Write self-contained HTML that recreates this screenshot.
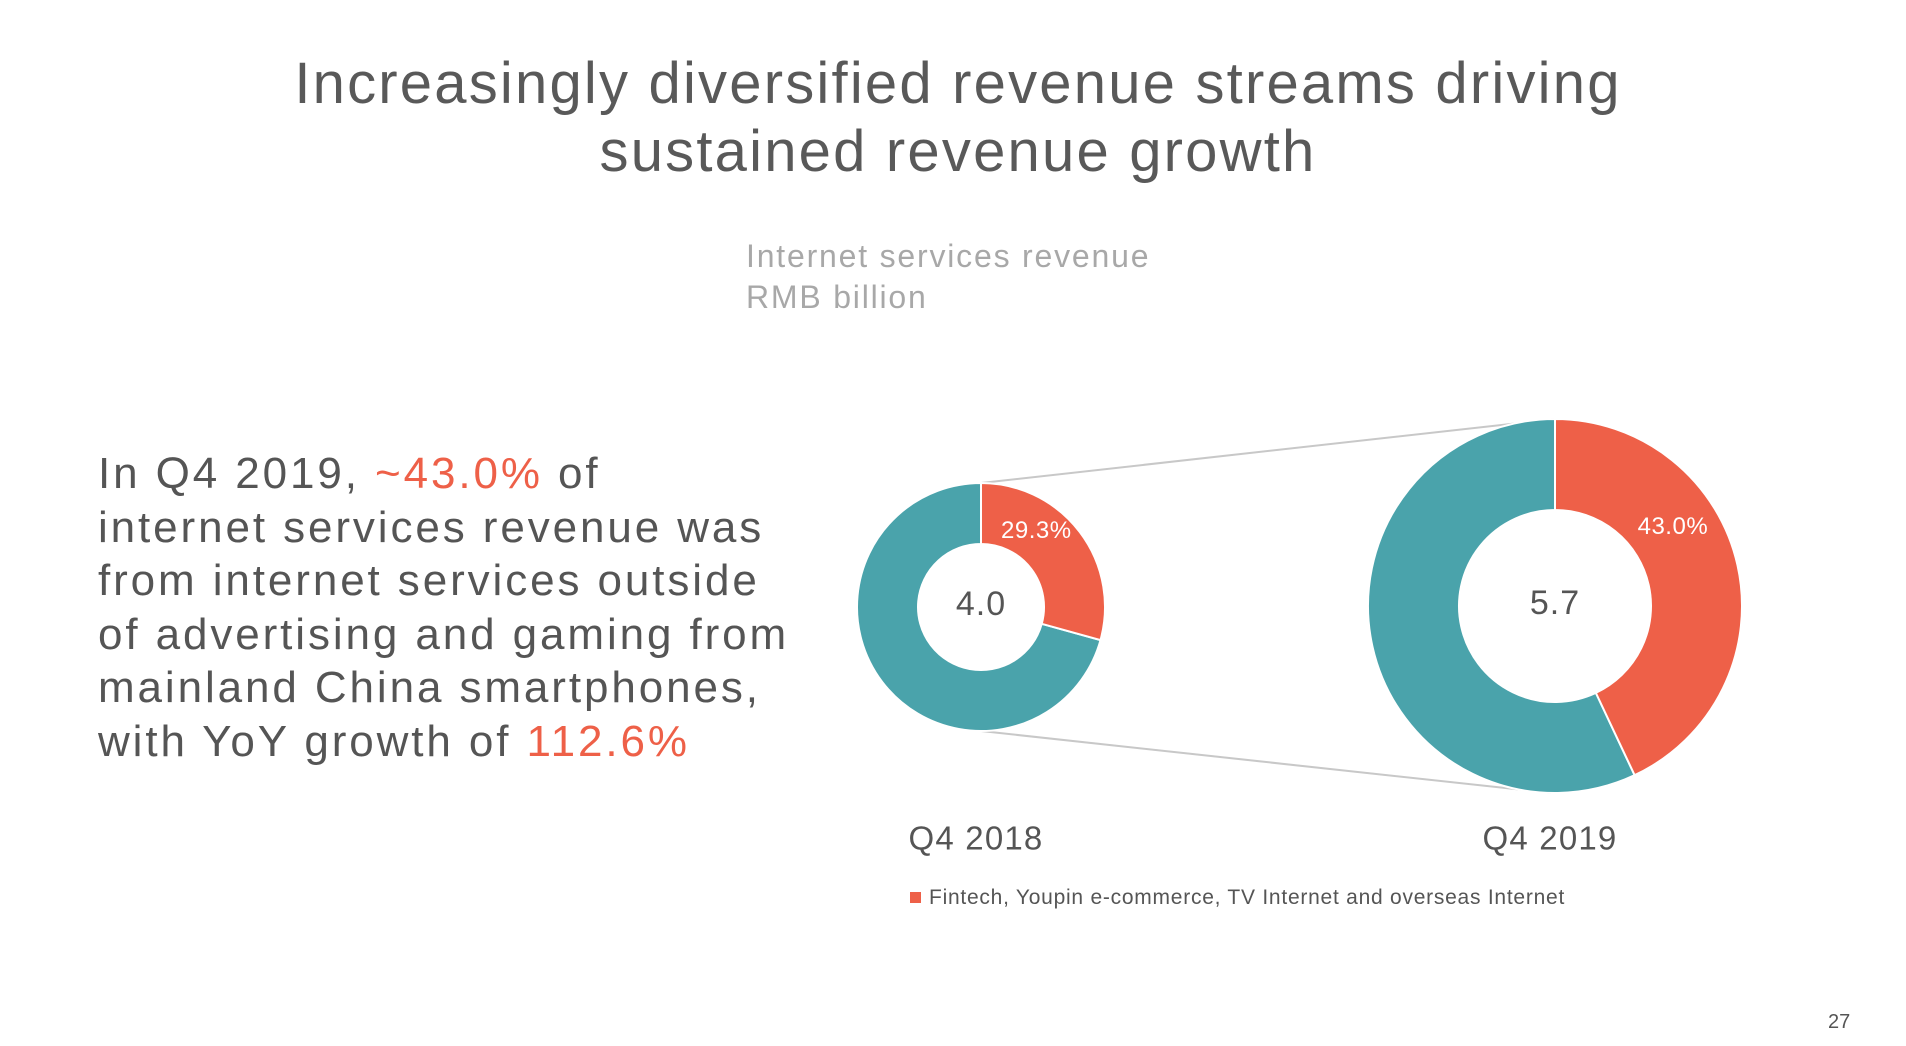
<!DOCTYPE html>
<html><head><meta charset="utf-8"><style>
html,body{margin:0;padding:0;background:#fff;}
body{width:1906px;height:1046px;position:relative;overflow:hidden;font-family:"Liberation Sans",sans-serif;color:#555;}
.abs{position:absolute;}
#title{left:0;width:1916px;top:50px;text-align:center;font-size:58px;line-height:68px;color:#595959;letter-spacing:2.2px;}
#sub{left:746px;top:236px;font-size:32px;line-height:41px;color:#a8a8a8;letter-spacing:1.8px;}
#lead{left:98px;top:447px;font-size:44px;line-height:53.5px;color:#555;letter-spacing:2.9px;}
.hl{color:#EE6048;}
#legend{left:910px;top:886px;font-size:21px;color:#555;letter-spacing:0.75px;}
#legend span.sq{display:inline-block;width:11px;height:11px;background:#EE6048;margin-right:8px;vertical-align:1px;}
#pnum{left:1828px;top:1011px;font-size:20px;color:#555;}
</style></head><body>
<div id="title" class="abs">Increasingly diversified revenue streams driving<br>sustained revenue growth</div>
<div id="sub" class="abs">Internet services revenue<br>RMB billion</div>
<div id="lead" class="abs">In Q4 2019, <span class="hl">~43.0%</span> of<br>internet services revenue was<br>from internet services outside<br>of advertising and gaming from<br>mainland China smartphones,<br>with YoY growth of <span class="hl">112.6%</span></div>
<svg class="abs" style="left:0;top:0" width="1906" height="1046" id="chart"></svg>
<div id="legend" class="abs"><span class="sq"></span>Fintech, Youpin e-commerce, TV Internet and overseas Internet</div>
<div id="pnum" class="abs">27</div>
<script>
const periods=["Q4 2018","Q4 2019"];
const totals=[4.0,5.7];
const sharePct=[29.3,43.0];
const cx=[981,1555], cy=[607,606], rOut=[124,187], rIn=[63,96];
const NS="http://www.w3.org/2000/svg";
const svg=document.getElementById('chart');
function mk(t,a){const e=document.createElementNS(NS,t);for(const k in a)e.setAttribute(k,a[k]);svg.appendChild(e);return e;}
function pt(x,y,r,f){const a=f*2*Math.PI;return [x+r*Math.sin(a),y-r*Math.cos(a)];}
function arc(x,y,ro,ri,f0,f1){const [a,b]=pt(x,y,ro,f0),[c,d]=pt(x,y,ro,f1),[e,f]=pt(x,y,ri,f1),[g,h]=pt(x,y,ri,f0);const L=(f1-f0)>0.5?1:0;
return `M${a},${b}A${ro},${ro} 0 ${L} 1 ${c},${d}L${e},${f}A${ri},${ri} 0 ${L} 0 ${g},${h}Z`;}
let l1=mk('line',{x1:cx[0],y1:cy[0]-rOut[0],x2:cx[1],y2:cy[1]-rOut[1],stroke:'#c8c8c8','stroke-width':2});


let l2=mk('line',{x1:cx[0],y1:cy[0]+rOut[0],x2:cx[1]-4,y2:cy[1]+rOut[1],stroke:'#c8c8c8','stroke-width':2});


periods.forEach((p,i)=>{
  const f=sharePct[i]/100;
  const t=mk('path',{d:arc(cx[i],cy[i],rOut[i],rIn[i],f,1),fill:'#4AA3AB',stroke:'#fff','stroke-width':2});
  
  
  const o=mk('path',{d:arc(cx[i],cy[i],rOut[i],rIn[i],0,f),fill:'#EE6048',stroke:'#fff','stroke-width':2});
  
  
  const [lx,ly]=pt(cx[i],cy[i],(rOut[i]+rIn[i])/2,f*(0.3+0.15*f));
  const pl=mk('text',{x:lx,y:ly,'text-anchor':'middle','dominant-baseline':'middle','font-size':24,'letter-spacing':0.5,fill:'#fff','font-family':'Liberation Sans, sans-serif'});
  pl.textContent=sharePct[i].toFixed(1)+'%';
  
  
  const c=mk('text',{x:cx[i],y:cy[i]-1,'text-anchor':'middle','dominant-baseline':'middle','font-size':34,'letter-spacing':1,fill:'#555','font-family':'Liberation Sans, sans-serif'});
  c.textContent=totals[i].toFixed(1);
  
  
  const q=mk('text',{x:cx[i]-5,y:841,'text-anchor':'middle','dominant-baseline':'middle','font-size':33,'letter-spacing':1.2,fill:'#555','font-family':'Liberation Sans, sans-serif'});
  q.textContent=p;
  
  
});
</script>
</body></html>
